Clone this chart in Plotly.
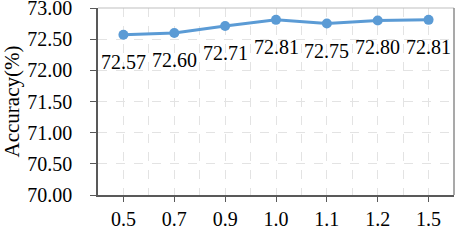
import plotly.graph_objects as go

categories = ["0.5", "0.7", "0.9", "1.0", "1.1", "1.2", "1.5"]
accuracy = [72.57, 72.60, 72.71, 72.81, 72.75, 72.80, 72.81]
value_labels = ["72.57", "72.60", "72.71", "72.81", "72.75", "72.80", "72.81"]
y_ticks = [70.0, 70.5, 71.0, 71.5, 72.0, 72.5, 73.0]
y_tick_labels = ["70.00", "70.50", "71.00", "71.50", "72.00", "72.50", "73.00"]

FONT = "Liberation Serif, Times New Roman, serif"
xs = list(range(len(categories)))

fig = go.Figure()
fig.add_trace(go.Scatter(
    x=xs, y=accuracy, mode="lines+markers",
    line=dict(color="#5B9BD5", width=3),
    marker=dict(color="#5B9BD5", size=10),
    cliponaxis=False, showlegend=False, hoverinfo="skip",
))

label_annotations = [
    dict(text=t, x=xv, y=yv, xref="x", yref="y", showarrow=False,
         yshift=-27, font=dict(family=FONT, size=20, color="black"))
    for xv, yv, t in zip(xs, accuracy, value_labels)
]

fig.update_layout(
    width=456, height=244,
    margin=dict(l=98, r=2, t=8, b=49),
    paper_bgcolor="white", plot_bgcolor="white",
    font=dict(family=FONT, size=20, color="black"),
    xaxis=dict(
        range=[-0.5, len(categories) - 0.5],
        tickmode="array", tickvals=xs, ticktext=categories,
        ticks="outside", ticklen=5, tickcolor="#595959",
        showgrid=True, gridcolor="#E3E3E3", griddash="dash", gridwidth=1,
        minor=dict(tickmode="linear", tick0=0.5, dtick=1, showgrid=True,
                   gridcolor="#E3E3E3", griddash="dash", gridwidth=1),
        showline=True, linecolor="#595959", linewidth=1.5,
        mirror=False, zeroline=False,
        tickfont=dict(family=FONT, size=20),
        ticklabelstandoff=0,
        automargin=False,
        ticklabeloverflow="allow",
    ),
    yaxis=dict(
        range=[70.0, 73.0],
        tickmode="array", tickvals=y_ticks, ticktext=y_tick_labels,
        ticks="outside", ticklen=6, tickcolor="#595959",
        showgrid=True, gridcolor="#E3E3E3", griddash="dash", gridwidth=1,
        showline=True, linecolor="#595959", linewidth=1.5,
        zeroline=False,
        tickfont=dict(family=FONT, size=20),
        ticklabelstandoff=14,
        automargin=False,
        ticklabeloverflow="allow",
        title=dict(text="Accuracy(%)", font=dict(family=FONT, size=21), standoff=7),
    ),
    shapes=[
        dict(type="line", xref="paper", yref="paper", x0=0, x1=1, y0=1, y1=1,
             line=dict(color="#BFBFBF", width=1)),
        dict(type="line", xref="paper", yref="paper", x0=1, x1=1, y0=0, y1=1,
             line=dict(color="#8C8C8C", width=1.5)),
    ],
    annotations=label_annotations + [
        dict(text="β", xref="x", yref="paper", x=5.5, y=0, yanchor="top",
             yshift=-46, showarrow=False, font=dict(family=FONT, size=20)),
    ],
)

fig.write_html(
    "out.html",
    config={"displayModeBar": False},
    post_script="document.body.style.margin='0';document.body.style.overflow='hidden';",
)
